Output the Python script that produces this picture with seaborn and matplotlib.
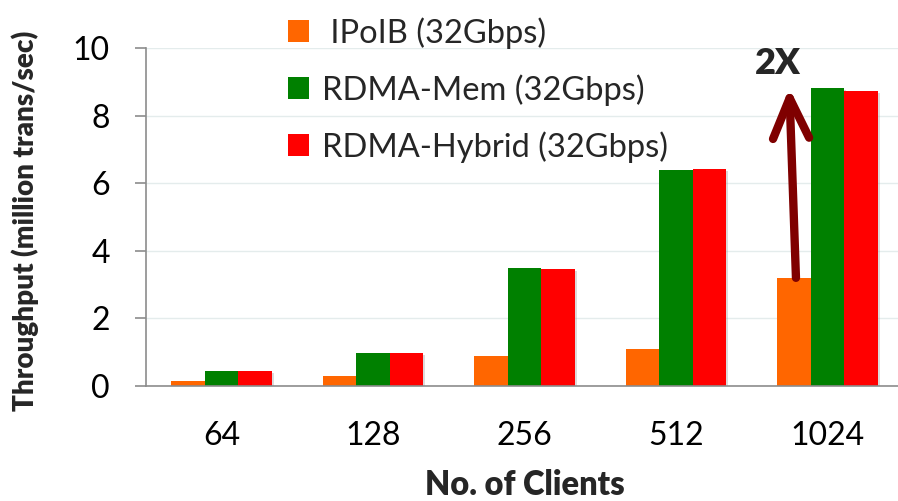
import matplotlib
matplotlib.use("Agg")
import matplotlib.pyplot as plt
from matplotlib.patches import Patch, FancyArrowPatch
from matplotlib import patheffects
import seaborn as sns
import pandas as pd

# Throughput (million transactions/sec) per client count
clients = ["64", "128", "256", "512", "1024"]
series = [" IPoIB (32Gbps)", "RDMA-Mem (32Gbps)", "RDMA-Hybrid (32Gbps)"]
ipoib = [0.14, 0.29, 0.89, 1.09, 3.2]
rdma_mem = [0.44, 0.97, 3.48, 6.38, 8.82]
rdma_hybrid = [0.44, 0.97, 3.46, 6.41, 8.72]
colors = ["#FF6600", "#008000", "#FF0000"]

df = pd.DataFrame({
    "clients": clients * 3,
    "series": [s for s in series for _ in clients],
    "value": ipoib + rdma_mem + rdma_hybrid,
})

sns.set_theme(style="white")
plt.rcParams["font.family"] = ["Lato", "DejaVu Sans"]

fig = plt.figure(figsize=(8.98, 5.01), dpi=100)
ax = fig.add_axes([146 / 898, 115 / 501, 757 / 898, 338 / 501])

sns.barplot(data=df, x="clients", y="value", hue="series", order=clients,
            hue_order=series, palette=colors, width=0.664, gap=0,
            errorbar=None, saturation=1, legend=False, ax=ax)

shadow = [patheffects.SimplePatchShadow(offset=(1.5, -1.5), shadow_rgbFace="#999999", alpha=0.35),
          patheffects.Normal()]
for p in ax.patches:
    p.set_linewidth(0)
    p.set_path_effects(shadow)

ax.set_xlim(-0.5, 4.5)
ax.set_ylim(0, 10)
ax.set_yticks([0, 2, 4, 6, 8, 10])
ax.yaxis.grid(True, color="#e4ecec", linewidth=1)
ax.set_axisbelow(True)

for side in ["top", "right"]:
    ax.spines[side].set_visible(False)
for side in ["left", "bottom"]:
    ax.spines[side].set_color("#8c8c8c")
    ax.spines[side].set_linewidth(1.2)

ax.tick_params(axis="y", direction="out", length=8, width=1.2, color="#8c8c8c",
               pad=18, labelsize=23, labelcolor="black", left=True)
ax.tick_params(axis="x", length=0, pad=25, labelsize=23, labelcolor="black")

ax.set_xlabel("No. of Clients", fontsize=23.5, fontweight="heavy", labelpad=13)
ax.set_ylabel("Throughput (million trans/sec)", fontsize=20, fontweight="heavy")
ax.yaxis.set_label_coords(-0.142, 0.49)

handles = [Patch(facecolor=c, edgecolor="none") for c in colors]
fig.legend(handles, series, loc="upper left", bbox_to_anchor=(288 / 898, 1 - 17 / 501),
           frameon=False, fontsize=23.5, handlelength=0.65, handleheight=0.65,
           handletextpad=0.38, labelspacing=0.78, borderpad=0, borderaxespad=0)

# 2X improvement arrow from the IPoIB bar at 1024 clients
arrow = FancyArrowPatch((3.793, ipoib[4]), (3.749, rdma_mem[4]),
                        arrowstyle="->,head_length=29,head_width=13",
                        mutation_scale=1, color="#7F0000", lw=6,
                        capstyle="round", joinstyle="round", shrinkA=0, shrinkB=0)
ax.add_patch(arrow)
ax.text(3.67, 9.55, "2X", fontsize=26, fontweight="heavy", ha="center", va="center")

fig.savefig("out.png", dpi=100)
